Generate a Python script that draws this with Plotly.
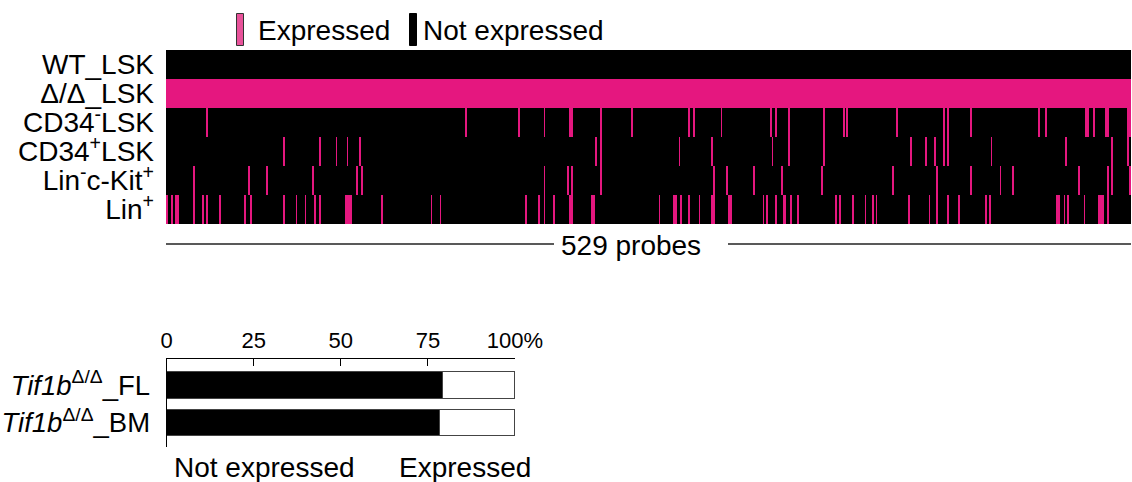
import plotly.graph_objects as go

W, H = 1132, 482
FONT = "Liberation Sans, Arial, sans-serif"
PINK = "#E5177F"

# ---------------- data ----------------
n_probes = 529
row_labels = ["WT_LSK", "Δ/Δ_LSK", "CD34<sup>-</sup>LSK", "CD34<sup>+</sup>LSK",
              "Lin<sup>-</sup>c-Kit<sup>+</sup>", "Lin<sup>+</sup>"]

# indices of probes that are "Expressed" in each row
wt_lsk_expressed = []
dd_lsk_expressed = list(range(n_probes))  # all expressed
cd34neg_expressed = [22, 164, 193, 207, 221, 222, 238, 255, 286, 289, 304, 331, 334,
                     341, 360, 371, 373, 400, 426, 428, 441, 478, 482, 504, 505,
                     508, 515, 516, 527, 528]
cd34pos_expressed = [64, 84, 93, 99, 106, 235, 238, 281, 299, 332, 341, 360, 408,
                     416, 421, 426, 428, 452, 493, 518, 527]
linkit_expressed = [15, 45, 55, 80, 104, 107, 207, 220, 222, 238, 300, 307, 322, 337,
                    359, 398, 422, 441, 457, 464, 500, 516, 518, 528]
linpos_expressed = [0, 3, 5, 6, 15, 20, 22, 29, 43, 46, 64, 71, 76, 81, 84, 98, 99,
                    100, 101, 118, 145, 150, 197, 204, 207, 212, 221, 222, 233, 234,
                    270, 278, 279, 282, 286, 292, 299, 300, 308, 309, 327, 329, 334,
                    338, 339, 342, 346, 367, 369, 376, 383, 387, 389, 407, 418, 422,
                    428, 434, 449, 451, 488, 489, 492, 494, 503, 511, 512, 513, 516]

bar_labels = ["<i>Tif1b</i><sup>Δ/Δ</sup>_FL", "<i>Tif1b</i><sup>Δ/Δ</sup>_BM"]
not_expressed_pct = [79.2, 78.3]
expressed_pct = [20.8, 21.7]
bar_ticks = [0, 25, 50, 75, 100]
bar_ticktext = ["0", "25", "50", "75", "100%"]

# ---------------- build ----------------
rows = [wt_lsk_expressed, dd_lsk_expressed, cd34neg_expressed, cd34pos_expressed,
        linkit_expressed, linpos_expressed]
z = []
for idx in rows:
    s = set(idx)
    z.append([1 if i in s else 0 for i in range(n_probes)])


def px(x):
    return x / W


def py(y):
    return 1 - y / H


fig = go.Figure()
fig.add_trace(go.Heatmap(
    z=z, x=list(range(n_probes)), y=list(range(len(row_labels))),
    colorscale=[[0, "black"], [0.5, "black"], [0.5, PINK], [1, PINK]],
    zmin=0, zmax=1, showscale=False, zsmooth=False, hoverinfo="skip",
    xaxis="x", yaxis="y"))

fig.add_trace(go.Bar(
    x=not_expressed_pct, y=bar_labels, orientation="h", width=0.71,
    marker=dict(color="black", line=dict(color="#444", width=1)),
    xaxis="x2", yaxis="y2", showlegend=False, name="Not expressed"))
fig.add_trace(go.Bar(
    x=expressed_pct, y=bar_labels, orientation="h", width=0.71,
    marker=dict(color="white", line=dict(color="#444", width=1.2)),
    xaxis="x2", yaxis="y2", showlegend=False, name="Expressed"))

fig.update_layout(
    template="none",
    width=W, height=H, margin=dict(l=0, r=0, t=0, b=0, pad=0, autoexpand=False),
    paper_bgcolor="white", plot_bgcolor="white",
    font=dict(family=FONT, color="black", size=28),
    barmode="stack", showlegend=False,
    xaxis=dict(domain=[px(166), px(1131)], range=[-0.5, n_probes - 0.5],
               showticklabels=False, showgrid=False, zeroline=False,
               showline=False, ticks="", anchor="y", automargin=False),
    yaxis=dict(domain=[py(224), py(50)], range=[len(row_labels) - 0.5, -0.5],
               tickvals=list(range(len(row_labels))), ticktext=row_labels,
               tickfont=dict(size=28, family=FONT), ticks="",
               ticklabelstandoff=11, automargin=False,
               showgrid=False, zeroline=False, showline=False, anchor="x"),
    xaxis2=dict(domain=[px(166.7), px(515)], range=[0, 100], side="top",
                tickvals=bar_ticks, ticktext=bar_ticktext,
                tickfont=dict(size=22, family=FONT),
                ticks="inside", ticklen=7, tickwidth=1.3, tickcolor="black",
                showline=True, linecolor="black", linewidth=1.3,
                showgrid=False, zeroline=False, anchor="y2", automargin=False,
                ticklabelstandoff=1),
    yaxis2=dict(domain=[py(447), py(359)], type="category",
                categoryarray=bar_labels, range=[1.653, -0.693],
                tickfont=dict(size=27.5, family=FONT), ticks="",
                ticklabelstandoff=10, automargin=False,
                showline=True, linecolor="black", linewidth=1.3,
                showgrid=False, zeroline=False, anchor="x2"),
)

# legend swatches (top)
fig.add_shape(type="rect", xref="paper", yref="paper",
              x0=px(236.5), x1=px(243.5), y0=py(45.5), y1=py(13.5),
              fillcolor="#E8529A", line=dict(color="#333", width=1))
fig.add_shape(type="rect", xref="paper", yref="paper",
              x0=px(409.5), x1=px(416.5), y0=py(45.5), y1=py(13.5),
              fillcolor="black", line=dict(color="black", width=1))
fig.add_annotation(text="Expressed", xref="paper", yref="paper",
                   x=px(256), y=py(31), xanchor="left", yanchor="middle",
                   showarrow=False, font=dict(size=28, family=FONT))
fig.add_annotation(text="Not expressed", xref="paper", yref="paper",
                   x=px(421), y=py(31), xanchor="left", yanchor="middle",
                   showarrow=False, font=dict(size=28, family=FONT))

# "529 probes" bracket
fig.add_shape(type="line", xref="paper", yref="paper",
              x0=px(166), x1=px(554), y0=py(244), y1=py(244),
              line=dict(color="#222", width=1.5))
fig.add_shape(type="line", xref="paper", yref="paper",
              x0=px(728), x1=px(1131), y0=py(244), y1=py(244),
              line=dict(color="#222", width=1.5))
fig.add_annotation(text=f"{n_probes} probes", xref="paper", yref="paper",
                   x=px(631), y=py(245), xanchor="center", yanchor="middle",
                   showarrow=False, font=dict(size=28, family=FONT))

# bottom labels
fig.add_annotation(text="Not expressed", xref="paper", yref="paper",
                   x=px(264), y=py(467), xanchor="center", yanchor="middle",
                   showarrow=False, font=dict(size=28, family=FONT))
fig.add_annotation(text="Expressed", xref="paper", yref="paper",
                   x=px(465), y=py(467), xanchor="center", yanchor="middle",
                   showarrow=False, font=dict(size=28, family=FONT))

fig.write_html("out.html", config={"displayModeBar": False},
               post_script="document.body.style.margin='0';")
